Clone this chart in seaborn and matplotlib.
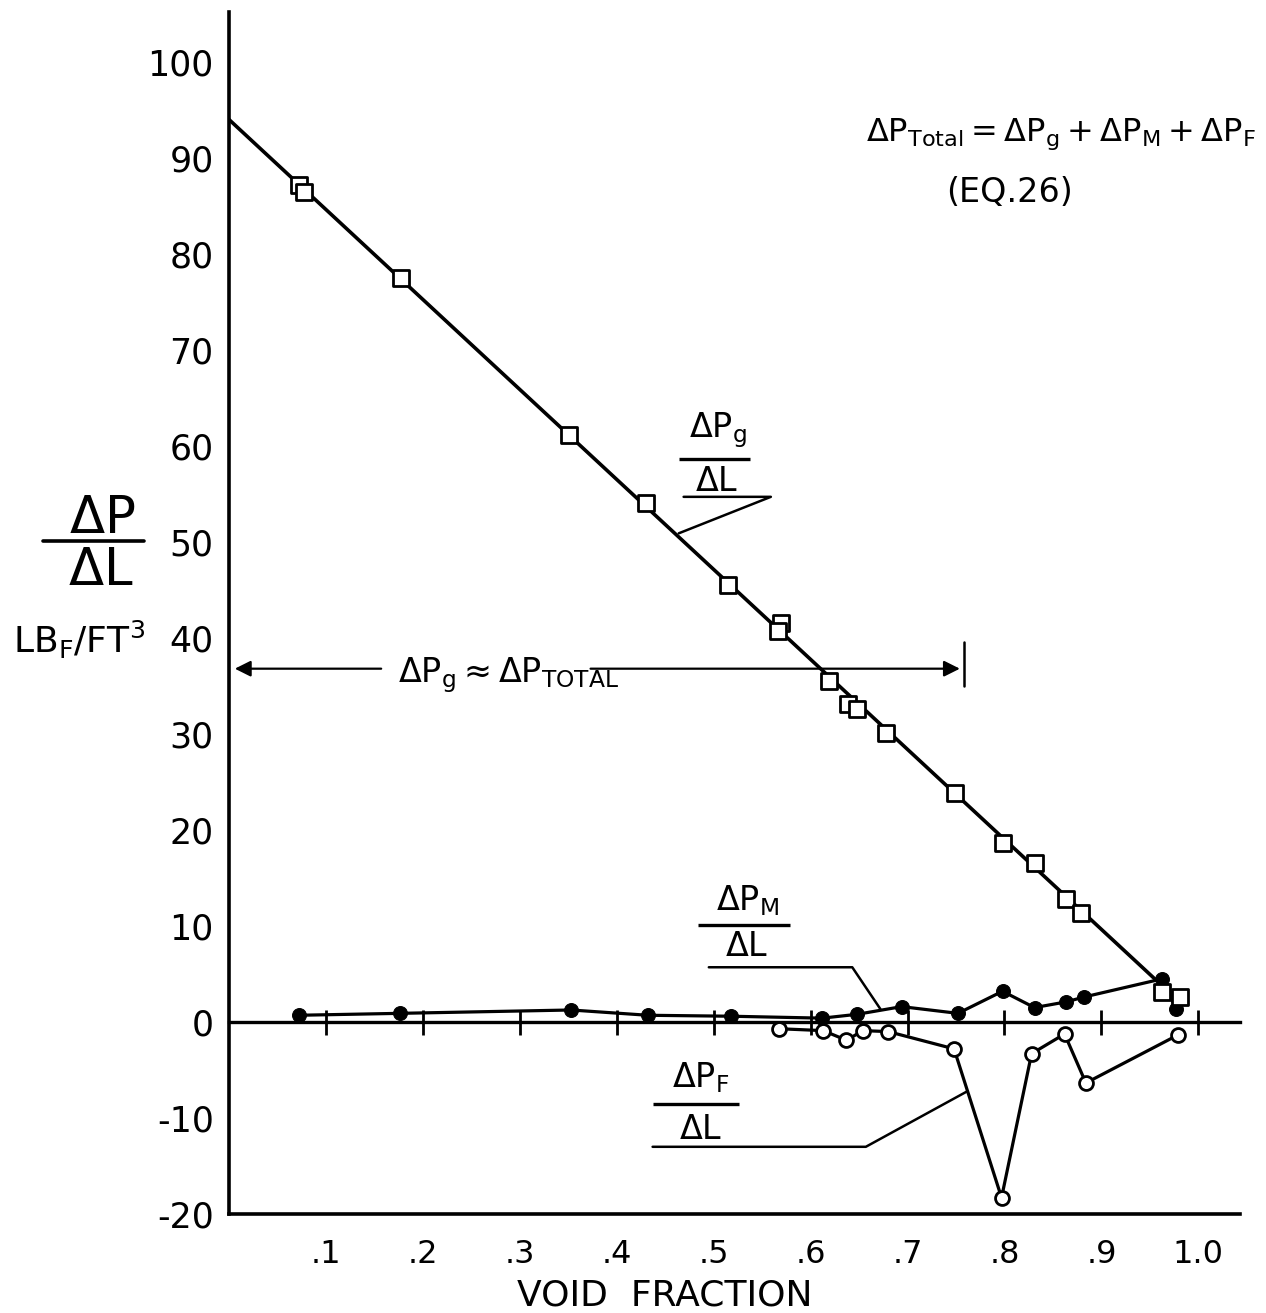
import matplotlib
matplotlib.use("Agg")
import matplotlib.pyplot as plt
from matplotlib.lines import Line2D
import seaborn as sns

# ---------------- data ----------------
grav_void = [0.072, 0.077, 0.177, 0.351, 0.430, 0.515, 0.569, 0.566, 0.619, 0.639,
             0.648, 0.678, 0.749, 0.799, 0.832, 0.863, 0.879, 0.963, 0.981]
grav_dp = [87.2, 86.4, 77.5, 61.1, 54.1, 45.5, 41.6, 40.7, 35.5, 33.1,
           32.6, 30.1, 23.9, 18.6, 16.6, 12.8, 11.4, 3.1, 2.6]

fit_void = [0.0, 0.956]
fit_dp = [94.0, 4.4]

mom_void = [0.072, 0.176, 0.353, 0.432, 0.518, 0.612, 0.648, 0.694, 0.752, 0.798,
            0.831, 0.864, 0.882, 0.963, 0.977]
mom_dp = [0.7, 0.9, 1.25, 0.7, 0.6, 0.4, 0.8, 1.6, 0.9, 3.2,
          1.5, 2.1, 2.6, 4.5, 1.35]

fric_void = [0.567, 0.613, 0.637, 0.654, 0.680, 0.748, 0.797, 0.828, 0.862, 0.884, 0.979]
fric_dp = [-0.7, -0.9, -1.9, -0.9, -1.0, -2.8, -18.3, -3.3, -1.25, -6.35, -1.35]

xtick_vals = [0.1, 0.2, 0.3, 0.4, 0.5, 0.6, 0.7, 0.8, 0.9, 1.0]
xtick_labels = [".1", ".2", ".3", ".4", ".5", ".6", ".7", ".8", ".9", "1.0"]
ytick_vals = [-20, -10, 0, 10, 20, 30, 40, 50, 60, 70, 80, 90, 100]
ytick_labels = ["-20", "-10", "0", "10", "20", "30", "40", "50", "60", "70", "80", "90", "100"]

# ---------------- style ----------------
sns.set_theme(style="white")
plt.rcParams["font.family"] = ["DejaVu Sans"]
plt.rcParams["mathtext.default"] = "regular"
plt.rcParams["axes.linewidth"] = 2.4

W, H = 1266, 1313
fig = plt.figure(figsize=(W / 100, H / 100), dpi=100)
fig.patch.set_facecolor("white")
ax = fig.add_axes([229 / W, 1 - 1214 / H, (1240 - 229) / W, (1214 - 12) / H])
ax.set_facecolor("white")

LW = 2.3
K = "black"

# fitted gravity line
sns.lineplot(x=fit_void, y=fit_dp, color=K, lw=2.6, ax=ax, zorder=3)
# momentum (filled circles)
sns.lineplot(x=mom_void, y=mom_dp, color=K, lw=LW, marker="o", markersize=10,
             markerfacecolor=K, markeredgecolor=K, sort=False, estimator=None,
             ax=ax, zorder=4)
# friction (open circles)
sns.lineplot(x=fric_void, y=fric_dp, color=K, lw=LW, marker="o", markersize=10,
             markerfacecolor="white", markeredgecolor=K, markeredgewidth=2.0,
             sort=False, estimator=None, ax=ax, zorder=4)
# gravity data (open squares)
sns.scatterplot(x=grav_void, y=grav_dp, marker="s", s=120, facecolor="white",
                edgecolor=K, linewidth=2.0, ax=ax, zorder=5)

ax.set_xlim(0, 1.043)
ax.set_ylim(-20, 105.2)
sns.despine(ax=ax)
for s in ("left", "bottom"):
    ax.spines[s].set_linewidth(2.6)
    ax.spines[s].set_color(K)

ax.set_xticks(xtick_vals)
ax.set_xticklabels(xtick_labels)
ax.set_yticks(ytick_vals)
ax.set_yticklabels(ytick_labels)
ax.tick_params(axis="both", direction="in", length=10, width=2, colors=K)
ax.tick_params(axis="y", labelsize=25, pad=11)
ax.tick_params(axis="x", labelsize=23, pad=18)
ax.set_xlabel("")
ax.set_ylabel("")
ax.grid(False)

# zero line with crossing ticks
sec = ax.secondary_xaxis(0, transform=ax.transData)
sec.set_xticks(xtick_vals)
sec.set_xticklabels([])
sec.tick_params(direction="inout", length=18, width=2, colors=K)
for sp in sec.spines.values():
    sp.set_linewidth(2.4)
    sp.set_color(K)

# ---------------- annotations ----------------
FS = 24


def frac(xn, yn, num, xd, yd, den, bar, under, leader):
    ax.text(xn, yn, num, ha="center", va="center", fontsize=FS, color=K)
    ax.text(xd, yd, den, ha="center", va="center", fontsize=FS, color=K)
    ax.plot(bar[0], bar[1], color=K, lw=2.4, solid_capstyle="butt")
    ax.plot(under[0] + [leader[0]], under[1] + [leader[1]], color=K, lw=1.8)


frac(0.504, 61.6, r"$\Delta P_g$", 0.503, 56.25, r"$\Delta L$",
     ([0.464, 0.538], [58.65, 58.65]),
     ([0.469, 0.559], [54.7, 54.7]), (0.464, 50.9))
frac(0.535, 12.6, r"$\Delta P_M$", 0.534, 7.9, r"$\Delta L$",
     ([0.484, 0.579], [10.1, 10.1]),
     ([0.495, 0.643], [5.7, 5.7]), (0.672, 1.35))
frac(0.487, -5.8, r"$\Delta P_F$", 0.487, -11.25, r"$\Delta L$",
     ([0.437, 0.526], [-8.55, -8.55]),
     ([0.437, 0.657], [-13.0, -13.0]), (0.762, -7.2))

# equation
ax.text(0.657, 91.8, r"$\Delta P_{Total} = \Delta P_g + \Delta P_M + \Delta P_F$",
        ha="left", va="baseline", fontsize=23, color=K)
ax.text(0.805, 85.4, "(EQ.26)", ha="center", va="baseline", fontsize=FS, color=K)

# delta Pg ~ delta P total arrows
ax.text(0.174, 35.4, r"$\Delta P_g \approx \Delta P_{TOTAL}$", ha="left",
        va="baseline", fontsize=FS, color=K)
arrow = dict(arrowstyle="-|>", color=K, lw=1.6, mutation_scale=24,
             shrinkA=0, shrinkB=0)
ax.annotate("", xy=(0.006, 36.8), xytext=(0.157, 36.8), arrowprops=arrow)
ax.annotate("", xy=(0.754, 36.8), xytext=(0.373, 36.8), arrowprops=arrow)
ax.plot([0.758, 0.758], [39.6, 35.0], color=K, lw=1.8)

# y-axis label block
fig.text(102 / W, 1 - 519 / H, r"$\Delta P$", ha="center", va="center",
         fontsize=37, color=K)
fig.text(101 / W, 1 - 571 / H, r"$\Delta L$", ha="center", va="center",
         fontsize=37, color=K)
fig.add_artist(Line2D([43 / W, 144 / W], [1 - 541 / H, 1 - 541 / H],
                      color=K, lw=2.6, transform=fig.transFigure))
fig.text(13 / W, 1 - 640 / H, r"LB$_F$/FT$^3$", ha="left", va="center",
         fontsize=26, color=K)

# x-axis label
fig.text(665 / W, 1 - 1295 / H, "VOID  FRACTION", ha="center", va="center",
         fontsize=26, color=K)

fig.savefig("out.png", dpi=100, facecolor="white")
